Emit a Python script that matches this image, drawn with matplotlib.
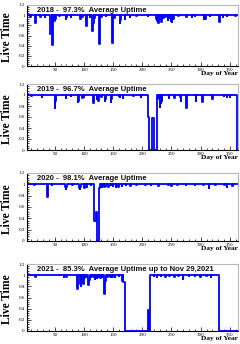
import numpy as np
import matplotlib
matplotlib.use("Agg")
import matplotlib.pyplot as plt
from matplotlib.ticker import MultipleLocator, FuncFormatter
import matplotlib.transforms as mtransforms

# ---------------- data ----------------
years = [2018, 2019, 2020, 2021]
n_days = [365, 365, 366, 365]
titles = ["2018 -  97.3%  Average Uptime",
          "2019 -  96.7%  Average Uptime",
          "2020 -  98.1%  Average Uptime",
          "2021 -  85.3%  Average Uptime up to Nov 29,2021"]

dip_days_2018 = [8, 17, 18, 25, 33, 43, 44, 46, 47, 49, 51, 52, 58, 69, 70, 78, 94, 95, 97,
                 104, 105, 110, 115, 116, 118, 126, 127, 130, 138, 149, 150, 152, 162, 163,
                 170, 179, 190, 210, 224, 226, 228, 230, 233, 234, 236, 240, 244, 246, 249,
                 251, 253, 262, 276, 285, 290, 306, 308, 316, 332, 333, 338, 345, 360]
dip_vals_2018 = [0.97, 0.85, 0.90, 0.97, 0.97, 0.62, 0.62, 0.41, 0.41, 0.88, 0.92, 0.95, 0.98,
                 0.93, 0.96, 0.97, 0.92, 0.93, 0.96, 0.78, 0.97, 0.97, 0.69, 0.85, 0.95, 0.44,
                 0.44, 0.97, 0.98, 0.46, 0.46, 0.95, 0.85, 0.90, 0.92, 0.97, 0.98, 0.98, 0.93,
                 0.88, 0.85, 0.92, 0.86, 0.90, 0.95, 0.97, 0.90, 0.95, 0.88, 0.87, 0.93, 0.98,
                 0.97, 0.96, 0.98, 0.92, 0.93, 0.98, 0.86, 0.92, 0.97, 0.98, 0.98]

dip_days_2019 = [10, 28, 50, 51, 69, 78, 90, 91, 97, 100, 116, 117, 122, 125, 130, 136, 137,
                 146, 147, 160, 162, 167, 185, 198, 211, 212, 213, 214, 215, 216, 217, 218,
                 219, 220, 221, 222, 223, 224, 225, 227, 229, 230, 232, 234, 246, 255, 265,
                 266, 275, 276, 292, 302, 303, 320, 340, 345, 350, 362, 363, 364, 365]
dip_vals_2019 = [0.98, 0.97, 0.76, 0.90, 0.95, 0.98, 0.88, 0.90, 0.95, 0.96, 0.85, 0.90, 0.92,
                 0.90, 0.97, 0.90, 0.92, 0.88, 0.93, 0.98, 0.96, 0.94, 0.98, 0.97, 0.60, 0.0,
                 0.0, 0.0, 0.0, 0.0, 0.58, 0.58, 0.58, 0.58, 0.0, 0.0, 0.0, 0.0, 0.56, 0.95,
                 0.93, 0.79, 0.85, 0.90, 0.95, 0.95, 0.97, 0.90, 0.93, 0.76, 0.90, 0.95, 0.88,
                 0.93, 0.98, 0.97, 0.96, 0.97, 0.0, 0.0, 0.0, 0.0]

dip_days_2020 = [15, 37, 38, 45, 68, 69, 70, 80, 92, 93, 94, 100, 101, 105, 112, 117, 118, 119,
                 120, 121, 122, 123, 124, 125, 126, 127, 129, 131, 133, 135, 138, 142, 146,
                 150, 155, 159, 165, 172, 180, 190, 205, 215, 228, 245, 250, 260, 275, 290,
                 305, 314, 325, 341, 345, 355]
dip_vals_2020 = [0.98, 0.78, 0.90, 0.98, 0.95, 0.92, 0.96, 0.98, 0.93, 0.92, 0.95, 0.96, 0.93,
                 0.96, 0.98, 0.90, 0.35, 0.35, 0.35, 0.52, 0.52, 0.0, 0.0, 0.0, 0.85, 0.93,
                 0.95, 0.96, 0.97, 0.95, 0.97, 0.96, 0.98, 0.97, 0.96, 0.95, 0.97, 0.98, 0.97,
                 0.98, 0.98, 0.98, 0.97, 0.98, 0.97, 0.98, 0.98, 0.98, 0.98, 0.94, 0.98, 0.98,
                 0.96, 0.97]

dip_days_2021 = [17, 66, 70, 89, 90, 94, 95, 97, 99, 101, 104, 107, 108, 109, 112, 116, 119,
                 122, 126, 128, 131, 135, 136, 137, 140, 145, 149, 153, 160, 166, 168, 169,
                 211, 220, 225, 232, 240, 247, 255, 262, 270, 280, 290, 300, 310, 318]
dip_vals_2021 = [0.96, 0.97, 0.96, 0.76, 0.90, 0.85, 0.80, 0.90, 0.85, 0.95, 0.97, 0.90, 0.82,
                 0.92, 0.97, 0.96, 0.93, 0.95, 0.96, 0.95, 0.97, 0.67, 0.75, 0.90, 0.96, 0.96,
                 0.97, 0.97, 0.98, 0.90, 0.87, 0.87, 0.37, 0.98, 0.97, 0.98, 0.97, 0.98, 0.97,
                 0.98, 0.94, 0.98, 0.98, 0.97, 0.98, 0.97]
outage_start_2021 = [170, 212, 332]
outage_end_2021 = [210, 212, 365]

dip_days = [dip_days_2018, dip_days_2019, dip_days_2020, dip_days_2021]
dip_vals = [dip_vals_2018, dip_vals_2019, dip_vals_2020, dip_vals_2021]
outages = [([], []), ([], []), ([], []), (outage_start_2021, outage_end_2021)]

y_ticks = [0, 0.2, 0.4, 0.6, 0.8, 1.0, 1.2]
x_ticks = [50, 100, 150, 200, 250, 300, 350]


def build(n, ddays, dvals, ostart, oend):
    days = np.arange(1, n + 1)
    vals = np.ones(n)
    for d, v in zip(ddays, dvals):
        vals[d - 1] = v
    for s, e in zip(ostart, oend):
        vals[s - 1:e] = 0.0
    return days, vals


# ---------------- layout ----------------
W, H = 240, 344
fig = plt.figure(figsize=(W / 100, H / 100), dpi=100)
panel_px = [(5, 66), (84, 150), (173, 241), (264, 331)]
left_px, right_px = 26.5, 238.3

serif = ["Liberation Serif", "DejaVu Serif"]
sans = ["Liberation Sans", "DejaVu Sans"]

for i, (top, bot) in enumerate(panel_px):
    ax = fig.add_axes([left_px / W, 1 - bot / H, (right_px - left_px) / W, (bot - top) / H])
    days, vals = build(n_days[i], dip_days[i], dip_vals[i], *outages[i])
    ax.step(days, vals, where="mid", color="#0000ff", lw=1.3)
    ax.set_xlim(1.5, 364.5)
    ax.set_ylim(0, 1.2)

    ax.set_yticks(y_ticks)
    ax.set_xticks(x_ticks)
    ax.yaxis.set_minor_locator(MultipleLocator(0.04))
    ax.xaxis.set_minor_locator(MultipleLocator(10))
    ax.yaxis.set_major_formatter(FuncFormatter(lambda v, p: "%g" % round(v, 2)))
    ax.tick_params(which="both", direction="in", colors="black", width=0.5)
    ax.tick_params(which="major", length=2.6, labelsize=3.6, pad=1.2)
    ax.tick_params(which="minor", length=1.3)
    for lab in ax.get_xticklabels() + ax.get_yticklabels():
        lab.set_family(serif)

    for s in ["left", "bottom"]:
        ax.spines[s].set_color("black")
        ax.spines[s].set_linewidth(0.8)
    for s in ["top", "right"]:
        ax.spines[s].set_color("#b8b8b8")
        ax.spines[s].set_linewidth(0.8)

    trans = mtransforms.blended_transform_factory(ax.transAxes, ax.transData)
    ax.text(0.05, 1.1, titles[i], transform=trans, ha="left", va="center",
            fontsize=5.5, fontweight="bold", family=sans, color="#111111")

    ax.text(-0.092, 0.47, "Live Time", transform=ax.transAxes, rotation=90,
            ha="center", va="center", fontsize=8.3, fontweight="bold", family=serif)
    ax.annotate("Day of Year", xy=(1.0, 0.0), xycoords="axes fraction",
                xytext=(0, -5.2), textcoords="offset points", ha="right", va="center",
                fontsize=5.3, fontweight="bold", family=serif)

fig.savefig("out.png", dpi=100)
